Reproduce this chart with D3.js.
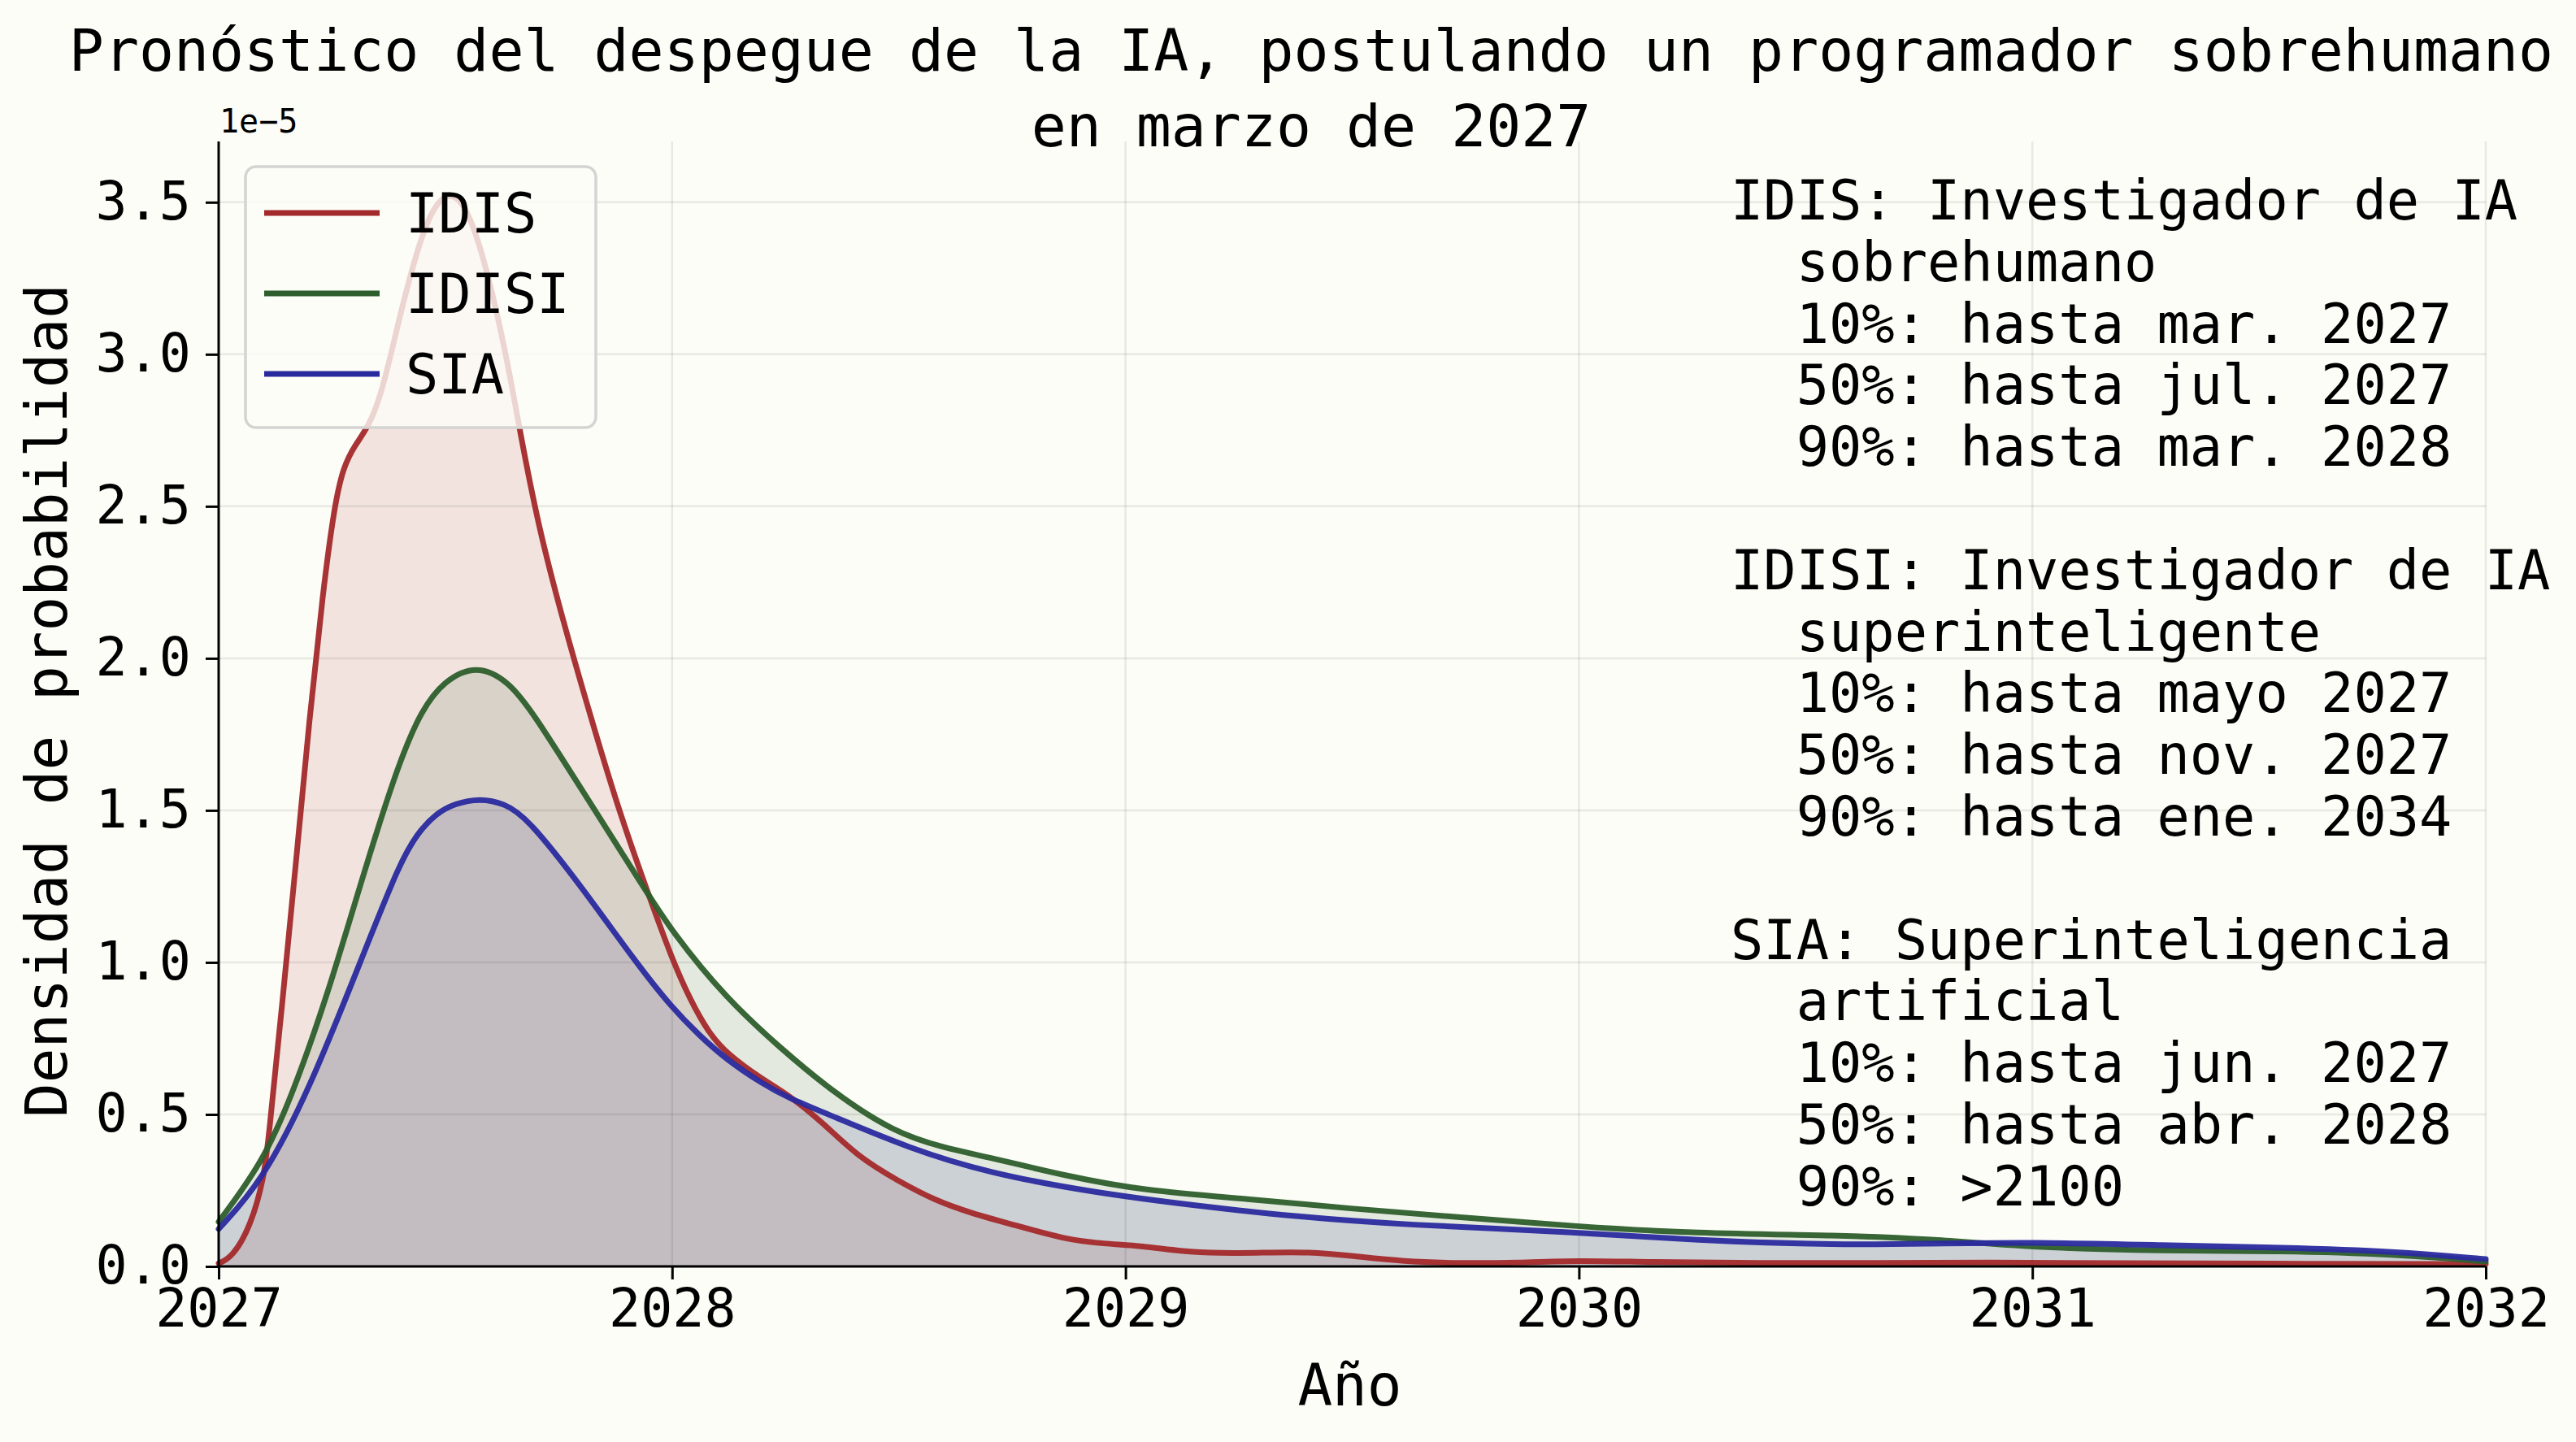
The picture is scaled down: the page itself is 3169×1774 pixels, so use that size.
<!DOCTYPE html>
<html>
<head>
<meta charset="utf-8">
<title>Pronóstico del despegue de la IA</title>
<style>
  body { margin: 0; background: #fdfdf7; }
  svg { display: block; }
  text { font-family: "DejaVu Sans Mono", monospace; fill: #000; }
</style>
</head>
<body>
<svg width="3169" height="1774"></svg>
<script src="https://d3js.org/d3.v7.min.js"></script>
<script>

// density values are in units of 1e-5 (see the offset label on the y axis)
var idis = [
  [2027.00, 0.01], [2027.03, 0.03], [2027.07, 0.13], [2027.10, 0.29], [2027.11, 0.42],
  [2027.14, 0.86], [2027.17, 1.32], [2027.20, 1.80], [2027.23, 2.22], [2027.255, 2.50],
  [2027.275, 2.63], [2027.30, 2.70], [2027.33, 2.76], [2027.36, 2.87], [2027.40, 3.13],
  [2027.435, 3.33], [2027.47, 3.48], [2027.51, 3.54], [2027.55, 3.48], [2027.59, 3.29],
  [2027.633, 3.01], [2027.664, 2.75], [2027.704, 2.44], [2027.76, 2.12], [2027.816, 1.83],
  [2027.88, 1.51], [2027.945, 1.235], [2028.00, 1.01], [2028.04, 0.877], [2028.08, 0.77],
  [2028.12, 0.70], [2028.20, 0.614], [2028.255, 0.566], [2028.33, 0.477], [2028.41, 0.36],
  [2028.50, 0.28], [2028.58, 0.217], [2028.66, 0.175], [2028.753, 0.137], [2028.87, 0.088],
  [2028.95, 0.075], [2029.04, 0.067], [2029.12, 0.05], [2029.21, 0.043], [2029.30, 0.045],
  [2029.405, 0.048], [2029.50, 0.035], [2029.61, 0.016], [2029.75, 0.01], [2029.86, 0.012],
  [2030.00, 0.02], [2030.15, 0.014], [2030.40, 0.011], [2030.65, 0.011], [2030.90, 0.014],
  [2031.20, 0.01], [2031.60, 0.009], [2032.00, 0.008]
];

var idisi = [
  [2027.00, 0.147], [2027.096, 0.34], [2027.16, 0.555], [2027.24, 0.89], [2027.32, 1.296],
  [2027.40, 1.67], [2027.448, 1.83], [2027.496, 1.925], [2027.568, 1.98], [2027.64, 1.925],
  [2027.696, 1.815], [2027.80, 1.57], [2027.936, 1.25], [2028.00, 1.10], [2028.12, 0.88],
  [2028.239, 0.718], [2028.353, 0.575], [2028.49, 0.44], [2028.60, 0.39], [2028.696, 0.36],
  [2028.87, 0.297], [2029.04, 0.249], [2029.27, 0.222], [2029.496, 0.19], [2029.725, 0.163],
  [2030.00, 0.131], [2030.25, 0.109], [2030.58, 0.102], [2030.77, 0.091], [2031.00, 0.062],
  [2031.29, 0.051], [2031.55, 0.051], [2031.80, 0.04], [2032.00, 0.016]
];

var sia = [
  [2027.00, 0.123], [2027.096, 0.28], [2027.20, 0.58], [2027.32, 1.03], [2027.40, 1.33],
  [2027.44, 1.428], [2027.48, 1.49], [2027.52, 1.522], [2027.576, 1.54], [2027.63, 1.523],
  [2027.68, 1.477], [2027.80, 1.25], [2027.92, 1.00], [2028.00, 0.85], [2028.06, 0.76],
  [2028.12, 0.68], [2028.20, 0.60], [2028.255, 0.555], [2028.353, 0.495], [2028.524, 0.388],
  [2028.696, 0.308], [2028.925, 0.244], [2029.153, 0.20], [2029.38, 0.163], [2029.61, 0.137],
  [2030.00, 0.113], [2030.25, 0.086], [2030.58, 0.07], [2030.77, 0.075], [2031.00, 0.08],
  [2031.29, 0.07], [2031.55, 0.062], [2031.80, 0.05], [2032.00, 0.024]
];

var seriesNames = ["IDIS", "IDISI", "SIA"];
var seriesColors = ["#a3292b", "#2d5e2c", "#2a2a9f"];
var xTicks = [2027, 2028, 2029, 2030, 2031, 2032];
var yTicks = [0, 0.5, 1.0, 1.5, 2.0, 2.5, 3.0, 3.5];

var titleLines = [
  "Pronóstico del despegue de la IA, postulando un programador sobrehumano",
  "en marzo de 2027"
];

var notes = [
  "IDIS: Investigador de IA",
  "  sobrehumano",
  "  10%: hasta mar. 2027",
  "  50%: hasta jul. 2027",
  "  90%: hasta mar. 2028",
  "",
  "IDISI: Investigador de IA",
  "  superinteligente",
  "  10%: hasta mayo 2027",
  "  50%: hasta nov. 2027",
  "  90%: hasta ene. 2034",
  "",
  "SIA: Superinteligencia",
  "  artificial",
  "  10%: hasta jun. 2027",
  "  50%: hasta abr. 2028",
  "  90%: >2100"
];

var svg = d3.select("svg"),
    margin = {top: 174, right: 111, bottom: 216, left: 269},
    width = +svg.attr("width") - margin.left - margin.right,
    height = +svg.attr("height") - margin.top - margin.bottom;

svg.append("rect")
    .attr("width", "100%").attr("height", "100%")
    .attr("fill", "#fdfdf7");

var g = svg.append("g").attr("transform", "translate(" + margin.left + "," + margin.top + ")");

var x = d3.scaleLinear().domain([2027, 2032]).range([0, width]);
var y = d3.scaleLinear().domain([0, 3.7]).range([height, 0]);

var data = [idis, idisi, sia];
var curve = d3.curveBasis;

var area = d3.area()
    .x(function(d) { return x(d[0]); })
    .y0(y(0))
    .y1(function(d) { return y(d[1]); })
    .curve(curve);

var line = d3.line()
    .x(function(d) { return x(d[0]); })
    .y(function(d) { return y(d[1]); })
    .curve(curve);

// fills first
data.forEach(function(s, i) {
  g.append("path")
      .datum(s)
      .attr("fill", seriesColors[i])
      .attr("fill-opacity", 0.12)
      .attr("d", area);
});

// grid sits above the fills, below the lines
g.append("g")
    .selectAll("line")
    .data(xTicks)
  .join("line")
    .attr("x1", function(d) { return x(d); })
    .attr("x2", function(d) { return x(d); })
    .attr("y1", 0).attr("y2", height)
    .attr("stroke", "#000").attr("stroke-opacity", 0.08).attr("stroke-width", 2.5);

g.append("g")
    .selectAll("line")
    .data(yTicks)
  .join("line")
    .attr("x1", 0).attr("x2", width)
    .attr("y1", function(d) { return y(d); })
    .attr("y2", function(d) { return y(d); })
    .attr("stroke", "#000").attr("stroke-opacity", 0.08).attr("stroke-width", 2.5);

data.forEach(function(s, i) {
  g.append("path")
      .datum(s)
      .attr("fill", "none")
      .attr("stroke", seriesColors[i])
      .attr("stroke-opacity", 0.95)
      .attr("stroke-width", 7)
      .attr("stroke-linejoin", "round")
      .attr("stroke-linecap", "round")
      .attr("d", line);
});

// axes
var xAxis = g.append("g")
    .attr("transform", "translate(0," + height + ")")
    .call(d3.axisBottom(x).tickValues(xTicks).tickFormat(d3.format("d")).tickSize(16).tickPadding(12));

var yAxis = g.append("g")
    .call(d3.axisLeft(y).tickValues(yTicks).tickFormat(d3.format(".1f")).tickSize(16).tickPadding(18));

[xAxis, yAxis].forEach(function(a) {
  a.select(".domain").attr("stroke", "#000").attr("stroke-width", 3);
  a.selectAll(".tick line").attr("stroke", "#000").attr("stroke-width", 3);
  a.selectAll(".tick text").attr("font-family", "DejaVu Sans Mono").attr("font-size", 65).attr("fill", "#000");
});
xAxis.select(".domain").attr("d", "M0,0H" + width);
yAxis.select(".domain").attr("d", "M0," + height + "V0");

svg.append("text")
    .attr("x", 270).attr("y", 163)
    .attr("font-size", 40)
    .text("1e\u22125");

// title
svg.append("g").selectAll("text")
    .data(titleLines)
  .join("text")
    .attr("x", 1613)
    .attr("y", function(d, i) { return 87 + i * 93; })
    .attr("text-anchor", "middle")
    .attr("font-size", 71.5)
    .text(function(d) { return d; });

// axis labels
svg.append("text")
    .attr("x", margin.left + width / 2 - 3).attr("y", 1729)
    .attr("text-anchor", "middle")
    .attr("font-size", 71)
    .text("Año");

svg.append("text")
    .attr("transform", "translate(82," + (margin.top + height / 2 - 4) + ") rotate(-90)")
    .attr("text-anchor", "middle")
    .attr("font-size", 71)
    .text("Densidad de probabilidad");

// legend
var legend = svg.append("g");
legend.append("rect")
    .attr("x", 302).attr("y", 205)
    .attr("width", 431).attr("height", 321)
    .attr("rx", 13)
    .attr("fill", "#fdfdf7").attr("fill-opacity", 0.8)
    .attr("stroke", "#d4d4d2").attr("stroke-width", 3.5);

seriesNames.forEach(function(name, i) {
  var ly = 262 + i * 99;
  legend.append("line")
      .attr("x1", 325).attr("x2", 467)
      .attr("y1", ly).attr("y2", ly)
      .attr("stroke", seriesColors[i]).attr("stroke-width", 7);
  legend.append("text")
      .attr("x", 499).attr("y", ly + 24)
      .attr("font-size", 67)
      .text(name);
});

// notes on the right
svg.append("g").selectAll("text")
    .data(notes)
  .join("text")
    .attr("x", 2129)
    .attr("y", function(d, i) { return 270 + i * 75.8; })
    .attr("font-size", 67)
    .attr("xml:space", "preserve")
    .style("white-space", "pre")
    .text(function(d) { return d; });

</script>
</body>
</html>
